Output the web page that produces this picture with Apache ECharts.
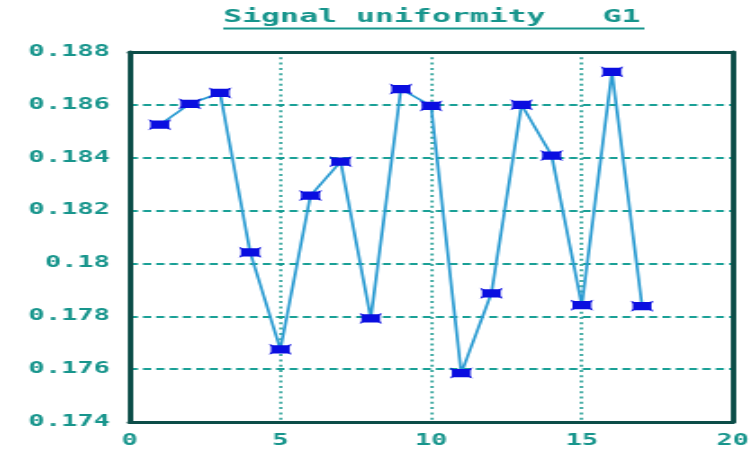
<!DOCTYPE html>
<html>
<head>
<meta charset="utf-8">
<script src="https://cdn.jsdelivr.net/npm/echarts@6/dist/echarts.min.js"></script>
<style>
  html, body { margin: 0; padding: 0; background: #ffffff; overflow: hidden; }
  /* The chart is drawn in a narrow box and widened, giving the broad glyphs and flat markers */
  #wrap { width: 754px; height: 449px; overflow: hidden; }
  #chart { width: 419px; height: 449px; transform: scaleX(1.8); transform-origin: 0 0; }
</style>
</head>
<body>
<div id="wrap"><div id="chart"></div></div>
<script>
// Sample index along the x axis
const sampleIndex = [1, 2, 3, 4, 5, 6, 7, 8, 9, 10, 11, 12, 13, 14, 15, 16, 17];
// Measured uniformity for each sample
const uniformity = [
  0.18525, 0.18604, 0.18645, 0.18042, 0.17675, 0.18257, 0.18385, 0.17792, 0.18660,
  0.18596, 0.17585, 0.17887, 0.18600, 0.18408, 0.17842, 0.18725, 0.17838
];
const titleText = 'Signal uniformity   G1';

const teal = '#17958c';
const frame = '#0c4d48';
const monoFont = '"DejaVu Sans Mono", "Liberation Mono", monospace';
const frameLine = { show: true, onZero: false, lineStyle: { color: frame, width: 3 } };

const chart = echarts.init(document.getElementById('chart'));
chart.setOption({
  backgroundColor: '#ffffff',
  animation: false,
  title: {
    text: titleText,
    left: 124,
    top: 8,
    padding: 0,
    textStyle: { fontFamily: monoFont, fontWeight: 'bold', fontSize: 17.5, color: teal }
  },
  graphic: [{
    type: 'line',
    shape: { x1: 124, y1: 28.5, x2: 358, y2: 28.5 },
    style: { stroke: teal, lineWidth: 2 },
    silent: true
  }],
  grid: { left: 72, right: 5, top: 52, bottom: 27 },
  xAxis: [{
    type: 'value', min: 0, max: 20, interval: 5, position: 'bottom',
    axisLine: frameLine, axisTick: { show: false },
    axisLabel: { margin: 12, fontFamily: monoFont, fontWeight: 'bold', fontSize: 15, color: teal },
    splitLine: {
      show: true, showMinLine: false, showMaxLine: false,
      lineStyle: { color: '#14978d', width: 1.5, type: [2, 3.3] }
    },
    z: 3
  }, {
    // top edge of the frame
    type: 'value', min: 0, max: 20, interval: 5, position: 'top',
    axisLine: frameLine, axisTick: { show: false }, axisLabel: { show: false },
    splitLine: { show: false }, z: 3
  }],
  yAxis: [{
    type: 'value', min: 0.174, max: 0.188, interval: 0.002, position: 'left',
    axisLine: frameLine, axisTick: { show: false },
    axisLabel: { margin: 11, fontFamily: monoFont, fontWeight: 'bold', fontSize: 15, color: teal },
    splitLine: {
      show: true, showMinLine: false, showMaxLine: false,
      lineStyle: { color: '#1aa096', width: 2, type: [4.6, 2.8] }
    },
    z: 3
  }, {
    // right edge of the frame
    type: 'value', min: 0.174, max: 0.188, interval: 0.002, position: 'right',
    axisLine: frameLine, axisTick: { show: false }, axisLabel: { show: false },
    splitLine: { show: false }, z: 3
  }],
  series: [{
    type: 'line',
    xAxisIndex: 0, yAxisIndex: 0,
    data: sampleIndex.map((x, i) => [x, uniformity[i]]),
    lineStyle: { color: '#2a9bd2', width: 1.7 },
    symbol: 'path://M0,0 L2,1.5 L10,1.5 L12,0 L11,3.5 L11,8.5 L12,12 L10,10.5 L2,10.5 L0,12 L1,8.5 L1,3.5 Z',
    symbolSize: [12.5, 11],
    itemStyle: { color: '#0a0ee0', borderWidth: 0 },
    z: 5
  }]
});
</script>
</body>
</html>
